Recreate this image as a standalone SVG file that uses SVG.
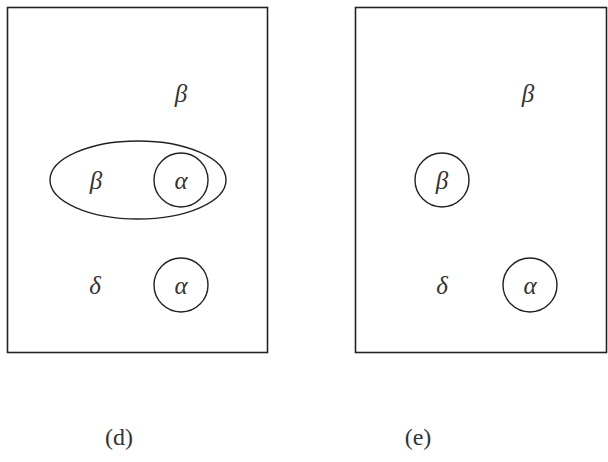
<svg xmlns="http://www.w3.org/2000/svg" width="608" height="462" viewBox="0 0 608 462">
<style>
.frame{fill:none;stroke:#222;stroke-width:1.6}
.ring{fill:none;stroke:#222;stroke-width:1.4}
.g{font-family:"Liberation Serif","DejaVu Serif",serif;font-style:italic;font-size:25px;fill:#333;text-anchor:middle;dominant-baseline:central}
.cap{font-family:"Liberation Serif","DejaVu Serif",serif;font-size:24px;fill:#333;text-anchor:middle;dominant-baseline:central}
</style>
<rect width="608" height="462" fill="#fff"/>
<g id="panel-d">
<rect class="frame" x="7.5" y="7.5" width="260" height="345"/>
<g id="d-beta-top"><text class="g" x="181" y="93">β</text></g>
<g id="d-ellipse"><ellipse class="ring" cx="138" cy="180" rx="88" ry="39"/>
<text class="g" x="96" y="180">β</text></g>
<g id="d-alpha-mid"><circle class="ring" cx="181" cy="180" r="27"/><text class="g" x="181" y="180">α</text></g>
<g id="d-delta"><text class="g" x="95" y="285">δ</text></g>
<g id="d-alpha-bot"><circle class="ring" cx="181" cy="285" r="27"/><text class="g" x="181" y="285">α</text></g>
<text class="cap" x="119" y="437">(d)</text>
</g>
<g id="panel-e">
<rect class="frame" x="355.5" y="7.5" width="251" height="345"/>
<g id="e-beta-top"><text class="g" x="528" y="93">β</text></g>
<g id="e-beta-circ"><circle class="ring" cx="442" cy="180" r="27"/><text class="g" x="442" y="180">β</text></g>
<g id="e-delta"><text class="g" x="442" y="285">δ</text></g>
<g id="e-alpha"><circle class="ring" cx="530" cy="285" r="27"/><text class="g" x="530" y="285">α</text></g>
<text class="cap" x="418" y="437">(e)</text>
</g>
<g id="connectors"/>
</svg>
